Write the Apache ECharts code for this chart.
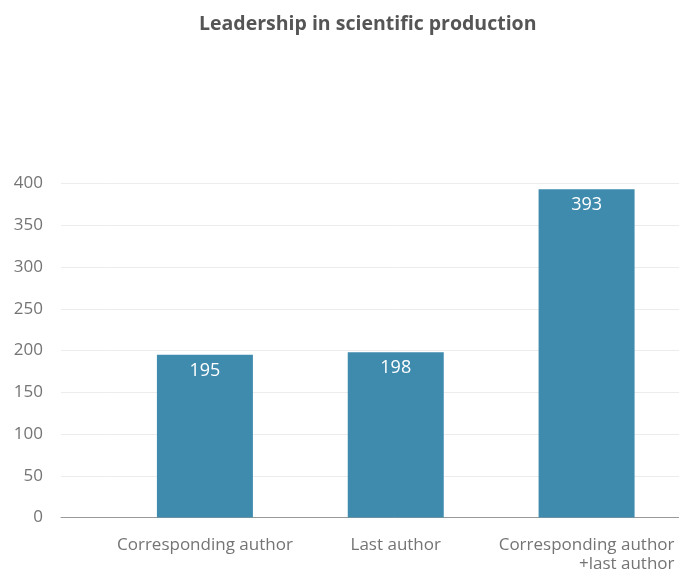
<!DOCTYPE html>
<html>
<head>
<meta charset="utf-8">
<script src="https://cdn.jsdelivr.net/npm/echarts@6/dist/echarts.min.js"></script>
<style>
  html, body { margin: 0; padding: 0; background: #fff; }
  #chart { width: 679px; height: 570px; }
</style>
</head>
<body>
<div id="chart"></div>
<script>
const categories = ['Corresponding author', 'Last author', 'Corresponding author\n+last author'];
const papers = [195, 198, 393];
const yMin = 0;
const yMax = 400;
const yStep = 50;

const barColor = '#3f8bae';
const fontName = '"Open Sans", "Noto Sans", sans-serif';

const chart = echarts.init(document.getElementById('chart'));

const option = {
  animation: false,
  title: {
    text: 'Leadership in scientific production',
    left: 194,
    top: 9,
    textStyle: { fontFamily: fontName, fontWeight: 'bold', fontSize: 19.5, color: '#555' }
  },
  grid: [
    // empty strip left of the first category, only the baseline and grid lines
    { left: 61, width: 48.5, top: 183.5, bottom: 52.5, outerBoundsMode: 'none', containLabel: false },
    { left: 109.5, right: -3, top: 183.5, bottom: 52.5, outerBoundsMode: 'none', containLabel: false }
  ],
  xAxis: [
    {
      gridIndex: 0,
      type: 'category',
      data: [''],
      axisLine: { lineStyle: { color: '#9a9a9a', width: 1 } },
      axisTick: { show: false },
      axisLabel: { show: false }
    },
    {
      gridIndex: 1,
      type: 'category',
      data: categories,
      axisLine: { lineStyle: { color: '#9a9a9a', width: 1 } },
      axisTick: { show: false },
      axisLabel: {
        interval: 0,
        margin: 18,
        fontFamily: fontName,
        fontSize: 17,
        color: '#747474',
        lineHeight: 19,
        formatter: function (v) {
          const parts = v.split('\n');
          if (parts.length === 1) return v;
          return '{a|' + parts[0] + '}\n{b|' + parts[1] + '}';
        },
        rich: {
          a: { fontFamily: fontName, fontSize: 17, color: '#747474', lineHeight: 19, align: 'right' },
          b: { fontFamily: fontName, fontSize: 17, color: '#747474', lineHeight: 19, align: 'right' }
        }
      }
    }
  ],
  yAxis: [
    {
      gridIndex: 0,
      type: 'value',
      min: yMin, max: yMax, interval: yStep,
      axisLine: { show: false },
      axisTick: { show: false },
      splitLine: { lineStyle: { color: '#ececec' } },
      axisLabel: { margin: 18, fontFamily: fontName, fontSize: 17, color: '#747474' }
    },
    {
      gridIndex: 1,
      type: 'value',
      min: yMin, max: yMax, interval: yStep,
      axisLine: { show: false },
      axisTick: { show: false },
      splitLine: { lineStyle: { color: '#ececec' } },
      axisLabel: { show: false }
    }
  ],
  series: [
    {
      type: 'bar',
      xAxisIndex: 1,
      yAxisIndex: 1,
      data: papers,
      barWidth: 96,
      itemStyle: { color: barColor },
      label: {
        show: true,
        position: 'insideTop',
        distance: 7,
        fontFamily: fontName,
        fontSize: 18,
        color: '#fff'
      }
    }
  ]
};

chart.setOption(option);
</script>
</body>
</html>
